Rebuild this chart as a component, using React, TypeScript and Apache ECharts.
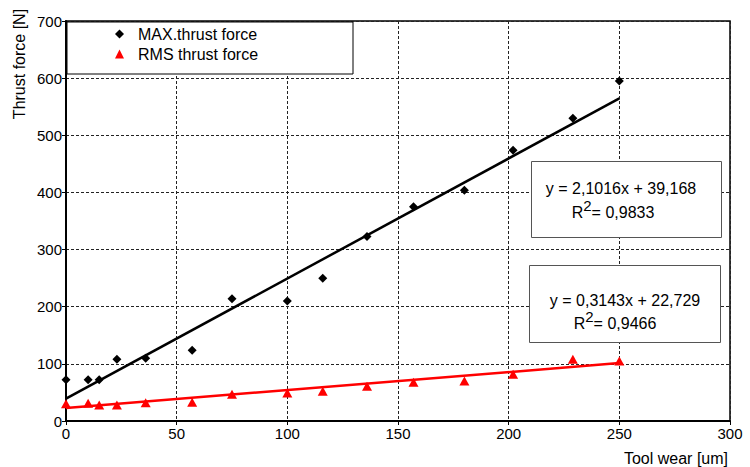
import React, { useEffect, useRef } from "react";
import * as echarts from "echarts";

const toolWear = [0, 10, 15, 23, 36, 57, 75, 100, 116, 136, 157, 180, 202, 229, 250];
const maxThrust = [72, 72, 72, 108, 110, 124, 214, 210, 250, 323, 375, 404, 474, 530, 595];
const rmsThrust = [30, 31, 28, 28, 32, 33, 47, 49, 52, 61, 68, 70, 82, 108, 105];

const maxFit = { slope: 2.1016, intercept: 39.168, r2: "0,9833", label: "y = 2,1016x + 39,168" };
const rmsFit = { slope: 0.3143, intercept: 22.729, r2: "0,9466", label: "y = 0,3143x + 22,729" };
const fitRange = [0, 250];

const xTicks = { min: 0, max: 300, interval: 50 };
const yTicks = { min: 0, max: 700, interval: 100 };

const FONT = "'Liberation Sans', Arial, Helvetica, sans-serif";

export default function App() {
  const ref = useRef<HTMLDivElement>(null);
  useEffect(() => {
    if (!ref.current) return;
    const chart = echarts.init(ref.current, undefined, { renderer: "svg" });
    const pts = (ys: number[]) => toolWear.map((x, i) => [x, ys[i]]);
    const fitLine = (f: { slope: number; intercept: number }) =>
      fitRange.map((x) => [x, f.slope * x + f.intercept]);
    const eqText = (x: number, y: number, text: string) => ({
      type: "text",
      x,
      y,
      z: 11,
      style: { text, fontSize: 16, fontFamily: FONT, fill: "#000", align: "center", verticalAlign: "middle" },
    });
    const r2Text = (x: number, y: number, val: string) => ({
      type: "text",
      x,
      y,
      z: 11,
      style: {
        text: `{r|R}{s|2}{r|= ${val}}`,
        align: "center",
        verticalAlign: "middle",
        rich: {
          r: { fontSize: 16, fontFamily: FONT, fill: "#000", verticalAlign: "bottom", lineHeight: 18 },
          s: { fontSize: 15, fontFamily: FONT, fill: "#000", verticalAlign: "bottom", lineHeight: 18, padding: [0, 0, 7, 0] },
        },
      },
    });
    const axisCommon = {
      axisLine: { show: true, lineStyle: { color: "#000", width: 2 } },
      axisTick: { show: true, inside: false, length: 4, lineStyle: { color: "#000", width: 1 } },
      splitLine: { show: true, lineStyle: { color: "#222", width: 1, type: [3, 2] } },
    };
    chart.setOption({
      animation: false,
      backgroundColor: "#fff",
      grid: { left: 66, right: 20, top: 21, bottom: 46, show: true, borderColor: "#000", borderWidth: 1.5, backgroundColor: "#fff" },
      xAxis: {
        type: "value",
        ...xTicks,
        ...axisCommon,
        axisLabel: { color: "#000", fontSize: 15, fontFamily: FONT, margin: 5 },
      },
      yAxis: {
        type: "value",
        ...yTicks,
        ...axisCommon,
        axisLabel: { color: "#000", fontSize: 15, fontFamily: FONT, margin: 4 },
      },
      legend: {
        orient: "vertical",
        left: 115,
        top: 26,
        padding: 0,
        itemWidth: 9,
        itemHeight: 9,
        itemGap: 4,
        z: 20,
        data: ["MAX.thrust force", "RMS thrust force"],
        textStyle: { fontSize: 16, fontFamily: FONT, color: "#000", lineHeight: 16, padding: [0, 0, 0, 9] },
      },
      series: [
        {
          name: "MAX trend",
          type: "line",
          data: fitLine(maxFit),
          showSymbol: false,
          silent: true,
          z: 2,
          lineStyle: { color: "#000", width: 2.5 },
        },
        {
          name: "RMS trend",
          type: "line",
          data: fitLine(rmsFit),
          showSymbol: false,
          silent: true,
          z: 2,
          lineStyle: { color: "#ff0000", width: 2.5 },
        },
        {
          name: "MAX.thrust force",
          type: "scatter",
          symbol: "diamond",
          symbolSize: 9,
          z: 3,
          itemStyle: { color: "#000", opacity: 1 },
          data: pts(maxThrust),
        },
        {
          name: "RMS thrust force",
          type: "scatter",
          symbol: "triangle",
          symbolSize: [10, 9],
          z: 3,
          itemStyle: { color: "#ff0000", opacity: 1 },
          data: pts(rmsThrust),
        },
      ],
      graphic: [
        {
          type: "rect",
          z: 10,
          shape: { x: 67, y: 22, width: 286, height: 52 },
          style: { fill: "#fff", stroke: "#000", lineWidth: 1 },
        },
        {
          type: "rect",
          z: 10,
          shape: { x: 531.5, y: 161.5, width: 190, height: 76 },
          style: { fill: "#fff", stroke: "#555", lineWidth: 1 },
        },
        {
          type: "rect",
          z: 10,
          shape: { x: 529.5, y: 265.5, width: 191, height: 77 },
          style: { fill: "#fff", stroke: "#555", lineWidth: 1 },
        },
        eqText(621, 188, maxFit.label),
        r2Text(613, 211, maxFit.r2),
        eqText(625, 300, rmsFit.label),
        r2Text(615, 322, rmsFit.r2),
        {
          type: "text",
          x: 19,
          y: 64,
          rotation: Math.PI / 2,
          z: 11,
          style: { text: "Thrust force [N]", fontSize: 16, fontFamily: FONT, fill: "#000", align: "center", verticalAlign: "middle" },
        },
        {
          type: "text",
          x: 728,
          y: 458,
          z: 11,
          style: { text: "Tool wear [um]", fontSize: 16, fontFamily: FONT, fill: "#000", align: "right", verticalAlign: "middle" },
        },
      ],
    });
    return () => chart.dispose();
  }, []);
  return (
    <div
      ref={ref}
      style={{ position: "fixed", left: 0, top: 0, width: 750, height: 467, background: "#fff" }}
    />
  );
}
